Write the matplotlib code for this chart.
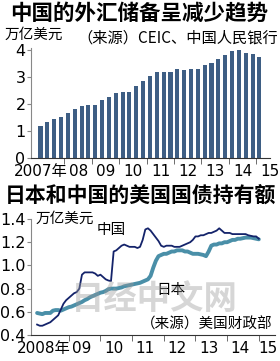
import matplotlib
matplotlib.use("Agg")
import matplotlib.pyplot as plt
import numpy as np
from matplotlib import font_manager

# font choice: narrow face for numbers if it exists
names = {f.name for f in font_manager.fontManager.ttflist}
num_font = 'Liberation Sans Narrow' if 'Liberation Sans Narrow' in names else 'DejaVu Sans'
cjk = 'Noto Sans CJK SC'
plt.rcParams['font.family'] = [num_font, cjk]

# --- top chart: China FX reserves, quarterly, trillion USD (2007Q1 - 2015Q1)
reserves = [1.20, 1.33, 1.43, 1.53,
            1.68, 1.81, 1.91, 1.95,
            1.95, 2.13, 2.27, 2.40,
            2.45, 2.45, 2.65, 2.85,
            3.04, 3.20, 3.20, 3.18,
            3.31, 3.24, 3.29, 3.31,
            3.44, 3.50, 3.66, 3.82,
            3.95, 3.99, 3.89, 3.84,
            3.73]
top_years = ['2007年', '08', '09', '10', '11', '12', '13', '14', '15']

# --- bottom chart: US treasury holdings, monthly from Jan 2008, trillion USD
china = [0.49, 0.48, 0.48, 0.49, 0.50, 0.51, 0.53, 0.55, 0.57, 0.62, 0.67, 0.70,
         0.72, 0.74, 0.76, 0.77, 0.80, 0.92, 0.94, 0.94, 0.94, 0.94, 0.93, 0.91,
         0.92, 0.90, 0.88, 0.87, 0.865, 1.12, 1.13, 1.15, 1.17, 1.18, 1.17, 1.16,
         1.16, 1.16, 1.15, 1.16, 1.22, 1.31, 1.32, 1.30, 1.27, 1.24, 1.21, 1.17,
         1.16, 1.17, 1.17, 1.17, 1.16, 1.16, 1.16, 1.17, 1.18, 1.19, 1.20, 1.22,
         1.25, 1.25, 1.26, 1.26, 1.27, 1.28, 1.28, 1.29, 1.30, 1.32, 1.30, 1.28,
         1.28, 1.28, 1.27, 1.27, 1.27, 1.27, 1.27, 1.27, 1.26, 1.255, 1.25, 1.25,
         1.23]
japan = [0.59, 0.585, 0.58, 0.59, 0.59, 0.59, 0.61, 0.615, 0.615, 0.61, 0.62, 0.63,
         0.64, 0.645, 0.655, 0.665, 0.675, 0.685, 0.70, 0.71, 0.725, 0.735, 0.745, 0.755,
         0.765, 0.77, 0.78, 0.795, 0.80, 0.80, 0.80, 0.805, 0.81, 0.82, 0.825, 0.83,
         0.835, 0.84, 0.845, 0.85, 0.86, 0.87, 0.88, 0.91, 0.98, 1.04, 1.08, 1.09,
         1.10, 1.10, 1.11, 1.12, 1.12, 1.13, 1.13, 1.13, 1.12, 1.12, 1.11, 1.10,
         1.10, 1.10, 1.095, 1.09, 1.08, 1.12, 1.17, 1.18, 1.18, 1.19, 1.19, 1.20,
         1.20, 1.21, 1.22, 1.22, 1.23, 1.23, 1.235, 1.24, 1.24, 1.24, 1.235, 1.23,
         1.225]
bottom_years = ['2008年', '09', '10', '11', '12', '13', '14', '15']

fig = plt.figure(figsize=(2.8, 3.61), dpi=100)
fig.patch.set_facecolor('white')

def style_axes(ax, xpad):
    for s in ['top', 'right']:
        ax.spines[s].set_visible(False)
    ax.spines['left'].set_color('#888888')
    ax.spines['bottom'].set_color('#333333')
    ax.tick_params(axis='y', direction='out', length=3, color='#888888',
                   labelsize=11.5, pad=1)
    ax.tick_params(axis='x', which='major', length=0, labelsize=11, pad=xpad)
    ax.tick_params(axis='x', which='minor', direction='out', length=4, color='#555555')

# top chart
ax1 = fig.add_axes([0.111, 0.5623, 0.854, 0.3053])
qx = 2007 + (np.arange(len(reserves)) + 0.5) / 4
ax1.bar(qx, reserves, width=0.15, color='#3e5e84')
ax1.set_xlim(2006.78, 2015.47)
ax1.set_ylim(0, 4.08)
ax1.set_yticks([0, 1, 2, 3, 4])
ax1.set_xticks([2007.12] + [y + 0.52 for y in range(2008, 2016)])
ax1.set_xticklabels(top_years)
ax1.set_xticks(range(2008, 2016), minor=True)
style_axes(ax1, 4)

fig.text(0.497, 0.963, '中国的外汇储备呈减少趋势', fontsize=15.5, fontweight='bold',
         family=cjk, ha='center', va='center')
fig.text(0.015, 0.903, '万亿美元', fontsize=10.5, family=cjk, va='center')
fig.text(0.992, 0.895, '（来源）CEIC、中国人民银行', fontsize=11, family=cjk,
         ha='right', va='center')

# bottom chart
ax2 = fig.add_axes([0.111, 0.072, 0.871, 0.3213])
mt = 2008 + np.arange(len(china)) / 12
ax2.plot(mt, japan, color='#4a8fa8', lw=2.8, solid_capstyle='round')
ax2.plot(mt, china, color='#14236a', lw=1.3)
ax2.set_xlim(2007.81, 2015.51)
ax2.set_ylim(0.4, 1.4)
ax2.set_yticks([0.4, 0.6, 0.8, 1.0, 1.2, 1.4])
ax2.set_yticklabels(['0.4', '0.6', '0.8', '1.0', '1.2', '1.4'])
ax2.set_xticks([2008.22] + [y + 0.42 for y in range(2009, 2015)] + [2015.28])
ax2.set_xticklabels(bottom_years)
ax2.set_xticks(range(2009, 2016), minor=True)
style_axes(ax2, 4)

fig.text(0.5, 0.457, '日本和中国的美国国债持有额', fontsize=15, fontweight='bold',
         family=cjk, ha='center', va='center')
ax2.text(0.02, 1.0, '万亿美元', transform=ax2.transAxes, fontsize=10.5,
         family=cjk, va='center')
ax2.text(0.27, 0.905, '中国', transform=ax2.transAxes, fontsize=10.5,
         family=cjk, va='center')
ax2.text(0.515, 0.385, '日本', transform=ax2.transAxes, fontsize=10.5,
         family=cjk, va='center')
ax2.text(0.99, 0.09, '（来源）美国财政部', transform=ax2.transAxes, fontsize=10.5,
         family=cjk, ha='right', va='center')
# watermark
fig.text(0.55, 0.17, '日经中文网', fontsize=24, fontweight='bold', family=cjk,
         color='#999999', alpha=0.4, ha='center', va='center', zorder=0)

fig.savefig('out.png', dpi=100)
